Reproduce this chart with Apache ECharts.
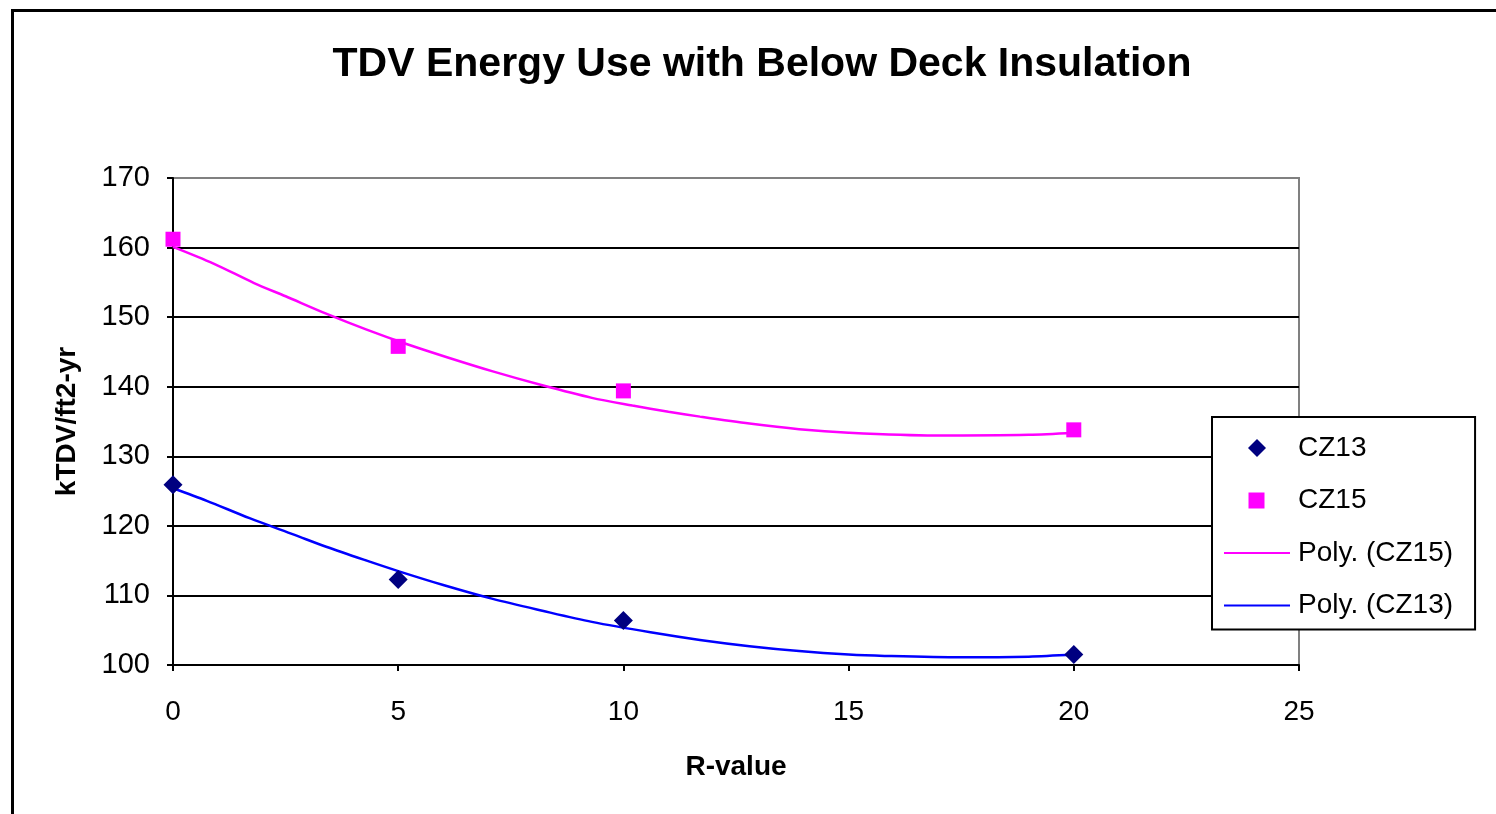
<!DOCTYPE html>
<html>
<head>
<meta charset="utf-8">
<script src="https://cdn.jsdelivr.net/npm/echarts@6/dist/echarts.min.js"></script>
<style>
html,body{margin:0;padding:0;background:#fff;}
#chart{width:1496px;height:814px;}
</style>
</head>
<body>
<div id="chart"></div>
<script>
// ---- data ----
const rValues = [0, 5, 10, 20];
const cz13 = [125.9, 112.3, 106.4, 101.5];
const cz15 = [161.2, 145.8, 139.4, 133.8];

// polynomial trend lines
const trend15X = [0, 0.9, 1.8, 2.5, 3.4, 4.3, 5.2, 6.1, 7.1, 8.2, 9.3, 10.2, 11.0, 11.7, 12.8, 13.9, 15.0, 16.9, 19.0, 20];
const trend15Y = [160.1, 157.7, 154.9, 153.0, 150.5, 148.2, 146.1, 144.2, 142.2, 140.2, 138.4, 137.3, 136.4, 135.7, 134.7, 133.9, 133.4, 133.0, 133.1, 133.4];
const trend13X = [0, 0.75, 1.7, 2.7, 3.4, 4.3, 5.0, 6.0, 7.1, 8.2, 9.3, 10.6, 11.7, 12.8, 13.9, 15.0, 15.8, 17.5, 19.0, 20];
const trend13Y = [125.4, 123.6, 121.1, 118.7, 117.0, 115.0, 113.5, 111.5, 109.5, 107.8, 106.2, 104.7, 103.6, 102.7, 102.0, 101.5, 101.3, 101.1, 101.2, 101.5];

const xTicks = [0, 5, 10, 15, 20, 25];
const yTicks = [100, 110, 120, 130, 140, 150, 160, 170];

const titleText = 'TDV Energy Use with Below Deck Insulation';
const xName = 'R-value';
const yName = 'kTDV/ft2-yr';

const zip = (xs, ys) => xs.map((x, i) => [x, ys[i]]);
const FONT = "'Liberation Sans', Arial, sans-serif";
// legend icons: the bounding box spans the whole 66x18 icon area so nothing gets stretched
const FRAME = 'M0,9 L0,9 M66,9 L66,9 ';
const DIAMOND_ICON = 'path://' + FRAME + 'M33,0 L42,9 L33,18 L24,9 Z';
const SQUARE_ICON = 'path://' + FRAME + 'M24.5,1 L40.5,1 L40.5,17 L24.5,17 Z';
const LINE_ICON = 'path://M0,0 L0,0 M0,18 L0,18 M0,8 L66,8 L66,10 L0,10 Z';

const chart = echarts.init(document.getElementById('chart'), null, {renderer: 'canvas'});
chart.setOption({
  backgroundColor: '#fff',
  animation: false,
  textStyle: {fontFamily: FONT},
  graphic: [{
    type: 'rect', left: 10, top: 8, z: 100, silent: true,
    shape: {width: 1600, height: 900},
    style: {fill: 'none', stroke: '#000', lineWidth: 3}
  }],
  title: {
    text: titleText,
    left: 762, top: 44, padding: 0, textAlign: 'center',
    textStyle: {fontFamily: FONT, fontSize: 41, fontWeight: 'bold', color: '#000'}
  },
  grid: {
    left: 173, top: 178, right: 197, bottom: 149,
    show: true, borderColor: '#808080', borderWidth: 2, backgroundColor: 'transparent'
  },
  legend: {
    orient: 'vertical', left: 1212, top: 417,
    padding: [16, 22, 9, 12],
    itemWidth: 66, itemHeight: 18, itemGap: 22.5,
    backgroundColor: '#fff', borderColor: '#000', borderWidth: 2,
    textStyle: {fontFamily: FONT, fontSize: 28, color: '#000', lineHeight: 30, padding: [0, 0, 0, 3]},
    data: [
      {name: 'CZ13', icon: DIAMOND_ICON},
      {name: 'CZ15', icon: SQUARE_ICON},
      {name: 'Poly. (CZ15)', icon: LINE_ICON},
      {name: 'Poly. (CZ13)', icon: LINE_ICON}
    ]
  },
  xAxis: {
    type: 'value', min: 0, max: 25, interval: 5,
    name: xName, nameLocation: 'middle', nameGap: 88,
    nameTextStyle: {fontFamily: FONT, fontSize: 28, fontWeight: 'bold', color: '#000'},
    axisLine: {show: true, onZero: false, lineStyle: {color: '#000', width: 2}},
    axisTick: {show: true, inside: false, length: 6, lineStyle: {color: '#000', width: 2}},
    axisLabel: {fontFamily: FONT, fontSize: 28, color: '#000', margin: 33,
      formatter: v => xTicks.includes(v) ? String(v) : ''},
    splitLine: {show: false}
  },
  yAxis: {
    type: 'value', min: 100, max: 170, interval: 10,
    name: yName, nameLocation: 'middle', nameGap: 92, nameRotate: 90,
    nameTextStyle: {fontFamily: FONT, fontSize: 28, fontWeight: 'bold', color: '#000'},
    axisLine: {show: true, onZero: false, lineStyle: {color: '#000', width: 2}},
    axisTick: {show: true, inside: false, length: 6, lineStyle: {color: '#000', width: 2}},
    axisLabel: {fontFamily: FONT, fontSize: 29, color: '#000', margin: 23,
      formatter: v => yTicks.includes(v) ? String(v) : ''},
    splitLine: {show: true, lineStyle: {color: ['#000','#000','#000','#000','#000','#000','#000','#808080'], width: 2}}
  },
  series: [
    {
      name: 'Poly. (CZ15)', type: 'line', data: zip(trend15X, trend15Y),
      symbol: 'none', smooth: 0.3, lineStyle: {color: '#FF00FF', width: 2.5}, itemStyle: {color: '#FF00FF'}, z: 2
    },
    {
      name: 'Poly. (CZ13)', type: 'line', data: zip(trend13X, trend13Y),
      symbol: 'none', smooth: 0.3, lineStyle: {color: '#0000FF', width: 2.5}, itemStyle: {color: '#0000FF'}, z: 2
    },
    {
      name: 'CZ13', type: 'scatter', data: zip(rValues, cz13),
      symbol: 'diamond', symbolSize: 19, symbolKeepAspect: true,
      itemStyle: {color: '#000080', opacity: 1}, z: 3
    },
    {
      name: 'CZ15', type: 'scatter', data: zip(rValues, cz15),
      symbol: 'rect', symbolSize: 15, symbolKeepAspect: true,
      itemStyle: {color: '#FF00FF', opacity: 1}, z: 3
    }
  ]
});
</script>
</body>
</html>
